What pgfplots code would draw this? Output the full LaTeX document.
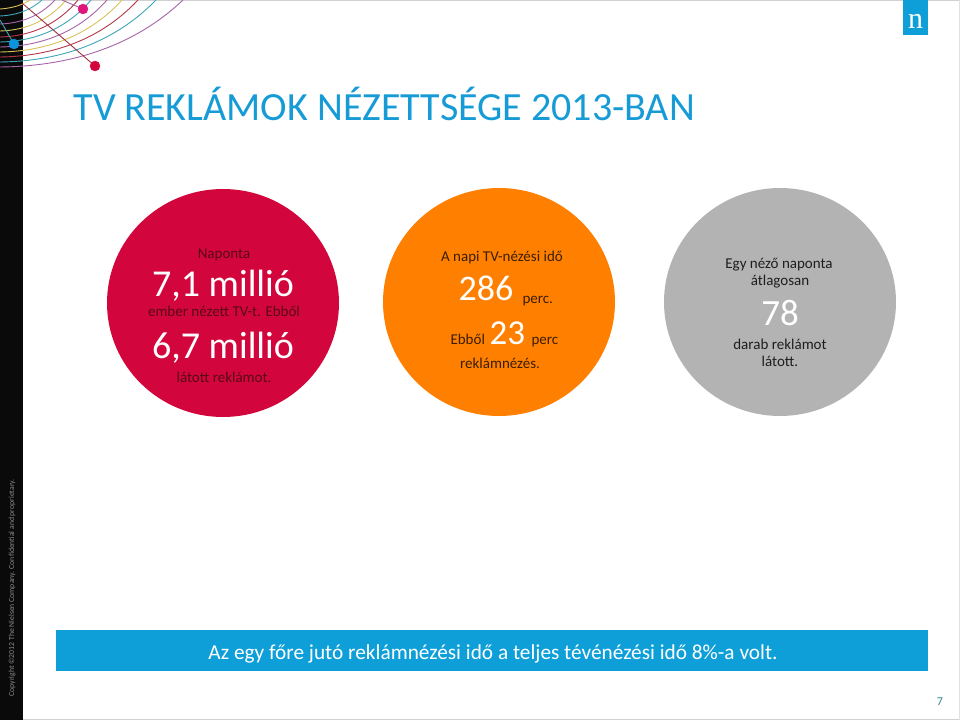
\documentclass[border=0pt]{standalone}
\usepackage{pgfplots}
\pgfplotsset{compat=1.18}
\usepackage{fontspec}
\setmainfont{Carlito}
\newfontfamily\logofont{Liberation Serif}
\definecolor{nred}{HTML}{D2063C}
\definecolor{norange}{HTML}{FF8000}
\definecolor{ngray}{HTML}{B3B3B3}
\definecolor{nblue}{HTML}{0E9FD9}
\definecolor{tblue}{HTML}{169BD6}
\definecolor{dred}{HTML}{5A0818}
\definecolor{dorange}{HTML}{3A1E00}
\definecolor{dgray}{HTML}{1E1E1E}
\definecolor{apurple}{HTML}{A763A8}
\definecolor{ateal}{HTML}{3DA5B8}
\definecolor{ared}{HTML}{B2384A}
\definecolor{ayellow}{HTML}{D9C25A}
\newcommand{\fs}[1]{\fontsize{#1bp}{1.2\dimexpr#1bp\relax}\selectfont}
\newcommand{\myarc}[3]{\draw[#3,line width=0.9bp] (axis cs:0,#1+2) .. controls (axis cs:0.55*#2,#1+1) and (axis cs:0.85*#2,0.4*#1) .. (axis cs:#2,0);}
\begin{document}
\begin{tikzpicture}
\begin{axis}[width=960bp,height=720bp,scale only axis,
  xmin=0,xmax=960,ymin=0,ymax=720,y dir=reverse,hide axis,clip=true,
  every node/.append style={inner sep=0pt}]
% frame lines
\addplot[draw=black!18,line width=1bp] coordinates {(23,0.6)(960,0.6)};
\addplot[draw=black!18,line width=1bp] coordinates {(23,719.4)(960,719.4)};
\addplot[draw=black!12,line width=1bp] coordinates {(959.4,0)(959.4,720)};
% black sidebar
\addplot[fill=black!96,draw=none] coordinates {(0,0)(23,0)(23,720)(0,720)} --cycle;
% decorative arcs
\myarc{65}{183}{apurple}
\myarc{60}{156}{ateal}
\myarc{55}{138}{ared}
\myarc{50}{122}{ayellow}
\myarc{45}{107}{apurple}
\myarc{40}{91}{ateal}
\myarc{35}{78}{ared}
\myarc{29}{66}{ayellow}
\myarc{22}{55}{apurple}
\myarc{14}{42}{ateal}
\myarc{7}{30}{ayellow}
% lines to dots
\addplot[draw=ared!90!black,line width=0.9bp] coordinates {(22,3)(95,66)};
\addplot[draw=apurple,line width=0.9bp] coordinates {(62,0)(83,9)};
\addplot[draw=ateal,line width=0.9bp] coordinates {(0,20)(14,44)};
% dots
\addplot[only marks,mark=*,mark size=5bp,color=nred] coordinates {(95,66)};
\addplot[only marks,mark=*,mark size=5bp,color=magenta!70!purple] coordinates {(83,9)};
\addplot[only marks,mark=*,mark size=5bp,color=cyan!80!blue] coordinates {(14,44)};
% circles
\fill[nred] (axis cs:223,303) ellipse[x radius=116,y radius=114];
\fill[norange] (axis cs:499,302) ellipse[x radius=116,y radius=114];
\fill[ngray] (axis cs:780,302) ellipse[x radius=116,y radius=114];
% bottom bar
\addplot[fill=nblue,draw=none] coordinates {(56,630)(928,630)(928,671)(56,671)} --cycle;
% logo
\addplot[fill=nblue,draw=none] coordinates {(903,0)(928,0)(928,35)(903,35)} --cycle;
\node[anchor=base,text=white] at (axis cs:915.5,29) {\logofont\fs{30}n};
% title
\node[anchor=base west,text=tblue] at (axis cs:70,121) {\fs{40}TV REKLÁMOK NÉZETTSÉGE 2013-BAN};
% red circle text
\node[anchor=base,text=dred] at (axis cs:224,258) {\fs{15}Naponta};
\node[anchor=base,text=white] at (axis cs:223,296) {\fs{38}7,1 millió};
\node[anchor=base,text=dred] at (axis cs:224,316) {\fs{15}ember nézett TV-t. Ebből};
\node[anchor=base,text=white] at (axis cs:223,358) {\fs{38}6,7 millió};
\node[anchor=base,text=dred] at (axis cs:224,382) {\fs{15}látott reklámot.};
% orange circle text
\node[anchor=base,text=dorange] at (axis cs:502,261) {\fs{15}A napi TV-nézési idő};
\node[anchor=base west,text=white] at (axis cs:455,300) {\fs{36}286};
\node[anchor=base west,text=dorange] at (axis cs:519,303) {\fs{15}perc.};
\node[anchor=base west,text=dorange] at (axis cs:447,344) {\fs{15}Ebből};
\node[anchor=base west,text=white] at (axis cs:486,344) {\fs{35}23};
\node[anchor=base west,text=dorange] at (axis cs:528,344) {\fs{15}perc};
\node[anchor=base,text=dorange] at (axis cs:500,368) {\fs{15}reklámnézés.};
% gray circle text
\node[anchor=base,text=dgray] at (axis cs:779,268) {\fs{15}Egy néző naponta};
\node[anchor=base,text=dgray] at (axis cs:780,285) {\fs{15}átlagosan};
\node[anchor=base,text=white] at (axis cs:780,325) {\fs{37}78};
\node[anchor=base,text=dgray] at (axis cs:780,349) {\fs{15}darab reklámot};
\node[anchor=base,text=dgray] at (axis cs:780,366) {\fs{15}látott.};
% bottom text
\node[anchor=base,text=white] at (axis cs:493,659) {\fs{21.3}Az egy főre jutó reklámnézési idő a teljes tévénézési idő 8\%-a volt.};
% page number
\node[anchor=base,text=ateal!80!black] at (axis cs:940,705) {\fs{12}7};
% copyright
\node[anchor=base west,rotate=90,text=black!45] at (axis cs:14,700) {\fs{7.7}Copyright ©2012 The Nielsen Company. Confidential and proprietary.};
\end{axis}
\end{tikzpicture}
\end{document}
